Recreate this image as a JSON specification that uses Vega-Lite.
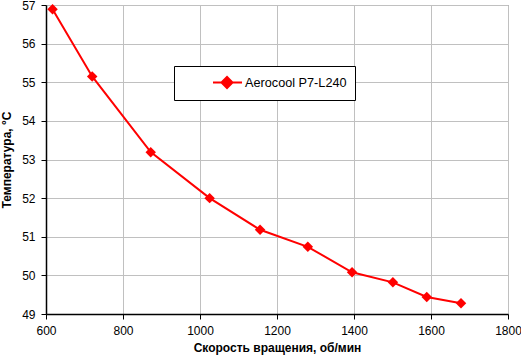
{
  "$schema": "https://vega.github.io/schema/vega-lite/v6.json",
  "width": 462,
  "height": 309,
  "autosize": {"type": "none"},
  "padding": {"left": 46, "top": 5, "right": 13, "bottom": 41},
  "background": "white",
  "config": {
    "font": "Liberation Sans",
    "view": {"stroke": "#808080", "strokeWidth": 1},
    "axis": {
      "labelFont": "Liberation Sans",
      "labelFontSize": 12,
      "labelColor": "black",
      "titleFont": "Liberation Sans",
      "titleFontSize": 12,
      "titleFontWeight": "bold",
      "titleColor": "black",
      "domainColor": "black",
      "domainWidth": 1.5,
      "tickColor": "black",
      "tickSize": 5,
      "gridColor": "#c0c0c0",
      "gridWidth": 1
    }
  },
  "data": {
    "values": [
      {"rpm": 617, "temp": 56.89, "series": "Aerocool P7-L240"},
      {"rpm": 720, "temp": 55.15, "series": "Aerocool P7-L240"},
      {"rpm": 872, "temp": 53.19, "series": "Aerocool P7-L240"},
      {"rpm": 1025, "temp": 52.0, "series": "Aerocool P7-L240"},
      {"rpm": 1156, "temp": 51.18, "series": "Aerocool P7-L240"},
      {"rpm": 1280, "temp": 50.74, "series": "Aerocool P7-L240"},
      {"rpm": 1395, "temp": 50.08, "series": "Aerocool P7-L240"},
      {"rpm": 1501, "temp": 49.82, "series": "Aerocool P7-L240"},
      {"rpm": 1589, "temp": 49.44, "series": "Aerocool P7-L240"},
      {"rpm": 1678, "temp": 49.28, "series": "Aerocool P7-L240"}
    ]
  },
  "encoding": {
    "x": {
      "field": "rpm",
      "type": "quantitative",
      "scale": {"domain": [600, 1800], "nice": false, "zero": false},
      "axis": {"values": [600, 800, 1000, 1200, 1400, 1600, 1800], "format": "d", "title": "Скорость вращения, об/мин", "labelPadding": 6, "titlePadding": 6, "labelFlush": false}
    },
    "y": {
      "field": "temp",
      "type": "quantitative",
      "scale": {"domain": [49, 57], "nice": false, "zero": false},
      "axis": {"values": [49, 50, 51, 52, 53, 54, 55, 56, 57], "title": "Температура, °C", "labelPadding": 6, "titlePadding": 8, "labelFlush": false}
    },
    "color": {
      "field": "series",
      "type": "nominal",
      "scale": {"range": ["#ff0000"]},
      "legend": {
        "title": null,
        "orient": "none",
        "legendX": 128,
        "legendY": 61,
        "padding": 8,
        "fillColor": "white",
        "strokeColor": "black",
        "cornerRadius": 0,
        "labelFont": "Liberation Sans",
        "labelFontSize": 12.7,
        "labelColor": "black",
        "labelOffset": 46,
        "symbolType": "M3.0,0H6.87M4.13,0L4.87,-0.733L5.6,0L4.87,0.733Z",
        "symbolSize": 225,
        "symbolStrokeWidth": 2,
        "symbolFillColor": "#ff0000",
        "symbolStrokeColor": "#ff0000"
      }
    }
  },
  "layer": [
    {"mark": {"type": "line", "strokeWidth": 2}},
    {"mark": {"type": "point", "shape": "diamond", "filled": true, "size": 110, "opacity": 1}}
  ]
}
